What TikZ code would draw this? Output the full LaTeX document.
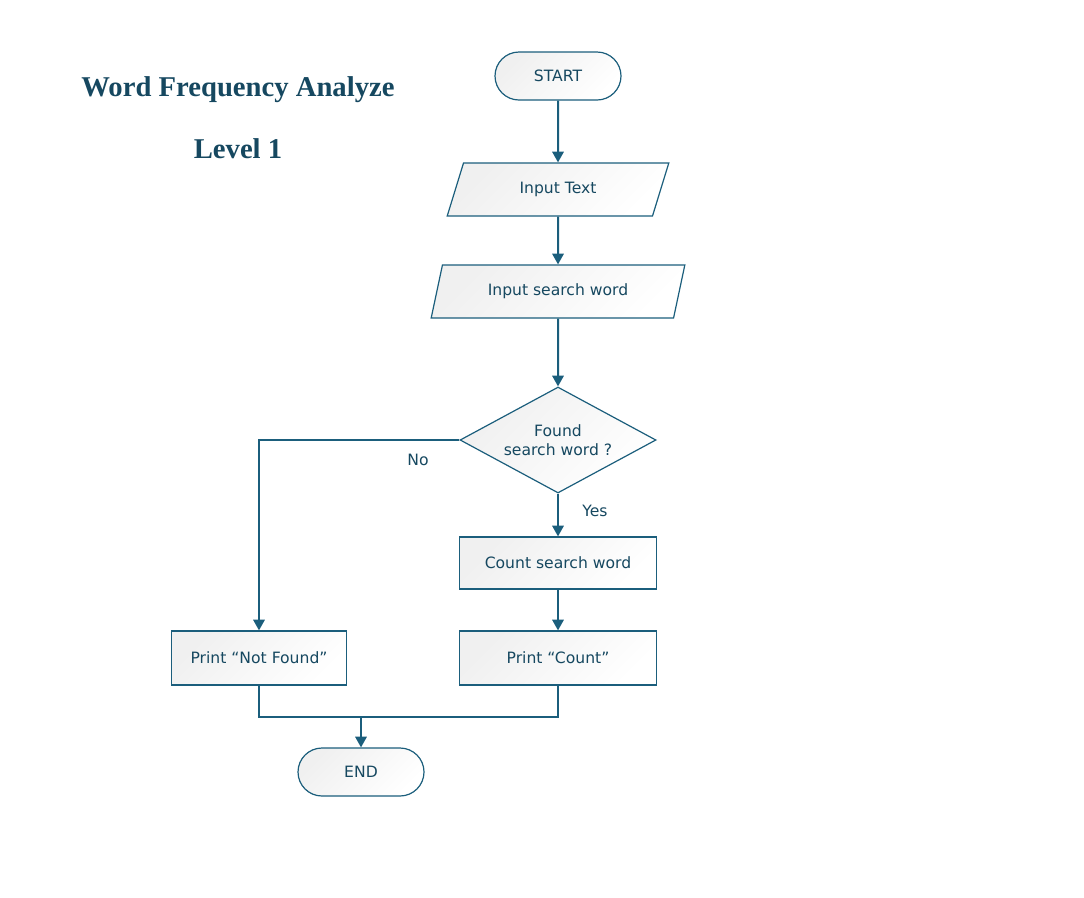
\documentclass[tikz,border=0pt]{standalone}
\usepackage{fontspec}
\setmainfont{DejaVu Sans}
\newfontfamily\headfont{Liberation Serif}
\usepackage{tikz}
\usetikzlibrary{shapes.geometric,arrows.meta,positioning}
\definecolor{flowline}{RGB}{27,94,124}
\definecolor{flowtext}{RGB}{22,72,96}

\begin{document}
\begin{tikzpicture}[x=0.75pt,y=-0.75pt,
    box/.style={draw=flowline,line width=0.9pt,text=flowtext,font=\fontsize{11.7}{13.8}\selectfont,
      top color=black!6,bottom color=white,shading angle=45,align=center,inner sep=0pt},
    terminal/.style={box,rectangle,rounded corners=18pt,minimum width=94.5pt,minimum height=36pt},
    io/.style={box,trapezium,trapezium left angle=65.6,trapezium right angle=114.4,
      trapezium stretches=true,minimum height=39.75pt},
    decision/.style={box,diamond,aspect=1.85,minimum width=147pt,minimum height=79.5pt},
    process/.style={box,rectangle,minimum height=39pt},
    flow/.style={draw=flowline,line width=1.5pt,-{Triangle[length=8pt,width=8.5pt]}},
    joint/.style={draw=flowline,line width=1.5pt},
    lbl/.style={text=flowtext,font=\fontsize{11.7}{13.8}\selectfont}]
    \useasboundingbox (0,0) rectangle (1084,897);
    \node[text=flowtext,font=\headfont\bfseries\fontsize{21.5}{24}\selectfont] (title) at (238,90) {Word Frequency Analyze};
    \node[text=flowtext,font=\headfont\bfseries\fontsize{21.5}{24}\selectfont] (level) at (238,149) {Level 1};
    \node[terminal] (start) at (558,76) {START};
    \node[io,minimum width=167.25pt] (intext) at (558,189.5) {Input Text};
    \node[io,minimum width=190.5pt] (inword) at (558,291.5) {Input search word};
    \node[decision] (found) at (558,440) {Found\\search word ?};
    \node[process,minimum width=147.75pt] (count) at (558,563) {Count search word};
    \node[process,minimum width=147.75pt,minimum height=40.5pt] (pcount) at (558,658) {Print “Count”};
    \node[process,minimum width=131.25pt,minimum height=40.5pt] (pnf) at (259,658) {Print “Not Found”};
    \node[terminal] (stop) at (361,772) {END};
    \node[lbl] (no) at (418,460) {No};
    \node[lbl] (yes) at (595,511) {Yes};
    \coordinate (join) at (361,717);
    \draw[flow] (start) -- (intext);
    \draw[flow] (intext) -- (inword);
    \draw[flow] (inword) -- (found);
    \draw[flow] (found) -- (count);
    \draw[flow] (count) -- (pcount);
    \draw[flow] (found.west) -| (pnf.north);
    \draw[joint] (pnf.south) |- (join) -| (pcount.south);
    \draw[flow] (join) -- (stop);
\end{tikzpicture}
\end{document}
